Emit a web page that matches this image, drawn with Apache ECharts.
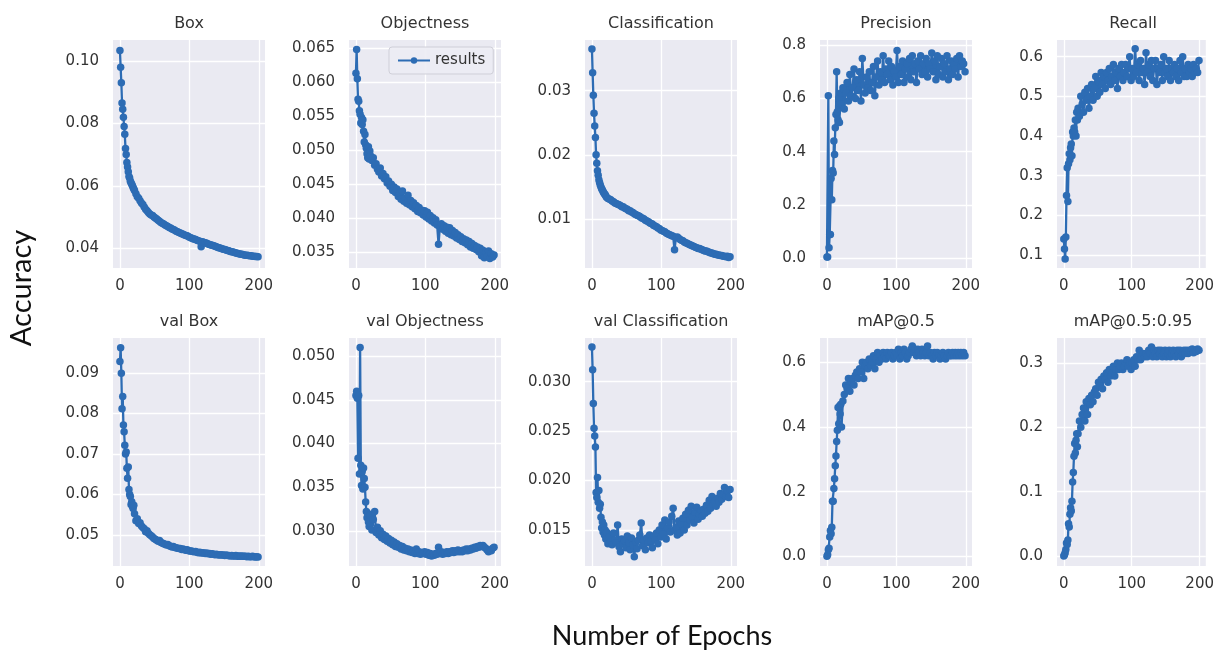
<!DOCTYPE html>
<html><head><meta charset="utf-8">
<script src="https://cdn.jsdelivr.net/npm/echarts@6/dist/echarts.min.js"></script>
<style>html,body{margin:0;padding:0;background:#fff}#c{width:1217px;height:653px}</style>
</head><body><div id="c"></div>
<script>
// ---------- DATA ----------
const epochs = [0,1,2,3,4,5,6,7,8,9,10,11,12,13,14,15,16,17,18,19,20,
21,23,25,27,29,31,33,35,37,39,41,43,45,47,49,51,53,55,57,59,
61,63,65,67,69,71,73,75,77,79,81,83,85,87,89,91,93,95,97,99,
101,103,105,107,109,111,113,115,117,119,121,123,125,127,129,131,133,135,137,139,
141,143,145,147,149,151,153,155,157,159,161,163,165,167,169,171,173,175,177,179,
181,183,185,187,189,191,193,195,197,199];

const titles = ['Box','Objectness','Classification','Precision','Recall',
  'val Box','val Objectness','val Classification','mAP@0.5','mAP@0.5:0.95'];

const boxLoss = [0.1033,0.098,0.093,0.0865,0.0845,0.082,0.079,0.0765,0.072,0.070,0.0675,0.066,0.0645,0.063,0.0625,0.0615,0.061,0.0605,0.060,0.0595,0.059,
0.0585,0.0575,0.0565,0.056,0.0552,0.0545,0.054,0.0532,0.0525,0.052,
0.0515,0.051,0.0507,0.0505,0.050,0.0497,0.0494,0.049,0.0487,0.0483,
0.048,0.0478,0.0475,0.0472,0.047,0.0467,0.0465,0.0462,0.046,0.0458,
0.0455,0.0453,0.0451,0.0449,0.0447,0.0445,0.0443,0.0441,0.044,0.0437,
0.0435,0.0433,0.0431,0.043,0.0428,0.0426,0.0424,0.0423,0.0405,0.0421,
0.0419,0.0418,0.0416,0.0414,0.0412,0.0411,0.041,0.0408,0.0407,0.0405,
0.0403,0.0402,0.04,0.0399,0.0397,0.0396,0.0395,0.0393,0.0392,0.039,
0.0389,0.0388,0.0387,0.0385,0.0384,0.0383,0.0382,0.0381,0.038,0.0379,
0.0378,0.0378,0.0377,0.0376,0.0376,0.0375,0.0375,0.0374,0.0374,0.0373];

const objLoss = [0.0613,0.0648,0.0605,0.0575,0.0572,0.0558,0.0553,0.054,0.0548,0.0538,0.0545,0.0528,0.0512,0.0523,0.0508,0.0503,0.0495,0.0489,0.0505,0.0487,0.0499,
0.0492,0.0485,0.0489,0.0478,0.0480,0.0472,0.0468,0.0474,0.0462,0.0466,
0.0458,0.0461,0.0452,0.0455,0.0447,0.0450,0.0441,0.0446,0.0438,0.0443,
0.0432,0.0437,0.0428,0.0440,0.0425,0.0430,0.0422,0.0434,0.0420,0.0426,
0.0417,0.0423,0.0414,0.0419,0.0410,0.0416,0.0408,0.0412,0.0405,0.0411,
0.0402,0.0409,0.0399,0.0404,0.0396,0.0401,0.0393,0.0398,0.0390,0.0362,
0.0388,0.0392,0.0384,0.0389,0.0381,0.0387,0.0378,0.0386,0.0376,0.0382,
0.0374,0.0379,0.0371,0.0376,0.0369,0.0373,0.0366,0.0370,0.0364,0.0368,
0.0361,0.0366,0.0358,0.0363,0.0356,0.0360,0.0354,0.0358,0.0351,0.0356,
0.0345,0.0353,0.0342,0.0350,0.0344,0.0352,0.0341,0.0348,0.0343,0.0346];

const clsLoss = [0.0365,0.0328,0.0293,0.0265,0.0245,0.0227,0.0200,0.0187,0.0175,0.0168,0.0161,0.0157,0.0153,0.0150,0.0147,0.0145,0.0143,0.0141,0.0139,0.0138,0.0136,
0.0134,0.0132,0.0131,0.0130,0.0128,0.0127,0.0125,0.0124,0.0123,0.0122,
0.0121,0.0119,0.0119,0.0117,0.0116,0.0115,0.0113,0.0113,0.0111,0.0110,
0.0108,0.0107,0.0106,0.0105,0.0104,0.0102,0.0101,0.0100,0.0098,0.0097,
0.0096,0.0094,0.0093,0.0092,0.0090,0.0089,0.0088,0.0086,0.0085,0.0083,
0.0082,0.0081,0.0080,0.0078,0.0077,0.0076,0.0075,0.0074,0.0073,0.0052,
0.0071,0.0072,0.0070,0.0068,0.0067,0.0066,0.0064,0.0063,0.0062,0.0061,
0.0060,0.0059,0.0058,0.0057,0.0056,0.0055,0.0054,0.0054,0.0053,0.0052,
0.0051,0.0050,0.0050,0.0049,0.0048,0.0047,0.0047,0.0046,0.0045,0.0045,
0.0044,0.0044,0.0043,0.0043,0.0042,0.0042,0.0041,0.0042,0.0040,0.0041];

const precision = [0.005,0.005,0.61,0.04,0.09,0.09,0.30,0.22,0.33,0.32,0.44,0.39,0.49,0.54,0.70,0.55,0.52,0.60,0.51,0.58,0.62,
0.58,0.64,0.56,0.62,0.66,0.59,0.69,0.61,0.64,0.71,
0.60,0.67,0.63,0.70,0.59,0.75,0.65,0.62,0.68,0.64,
0.70,0.63,0.66,0.72,0.61,0.68,0.74,0.65,0.70,0.67,
0.76,0.66,0.71,0.69,0.74,0.67,0.72,0.65,0.70,0.68,
0.78,0.66,0.72,0.69,0.74,0.66,0.71,0.73,0.68,0.75,
0.67,0.76,0.70,0.73,0.66,0.74,0.71,0.76,0.69,0.73,
0.70,0.75,0.68,0.73,0.71,0.77,0.70,0.74,0.67,0.76,
0.69,0.72,0.75,0.68,0.73,0.70,0.76,0.67,0.71,0.74,
0.69,0.73,0.71,0.75,0.68,0.76,0.72,0.74,0.73,0.70];

const recall = [0.14,0.115,0.09,0.145,0.25,0.32,0.235,0.33,0.355,0.34,0.37,0.38,0.35,0.41,0.40,0.42,0.41,0.44,0.40,0.46,0.44,
0.47,0.45,0.50,0.48,0.46,0.51,0.49,0.52,0.47,0.50,
0.53,0.49,0.52,0.55,0.50,0.54,0.51,0.56,0.53,0.55,
0.52,0.56,0.54,0.57,0.53,0.55,0.58,0.54,0.56,0.52,
0.57,0.55,0.58,0.54,0.56,0.58,0.55,0.57,0.60,0.54,
0.57,0.55,0.62,0.56,0.58,0.54,0.59,0.56,0.57,0.53,
0.61,0.56,0.58,0.55,0.59,0.54,0.57,0.59,0.53,0.57,
0.56,0.58,0.54,0.60,0.56,0.57,0.55,0.59,0.54,0.57,
0.56,0.58,0.55,0.57,0.54,0.59,0.56,0.60,0.55,0.57,
0.55,0.58,0.56,0.57,0.55,0.58,0.56,0.57,0.56,0.59];

const valBox = [0.0929,0.0963,0.0900,0.0812,0.0842,0.0772,0.0755,0.0722,0.0700,0.0705,0.0665,0.0640,0.0668,0.0612,0.0600,0.0595,0.0575,0.0582,0.0570,0.0565,0.0573,
0.0552,0.0535,0.0540,0.0528,0.0530,0.0522,0.0518,0.0515,0.0508,0.0510,
0.0504,0.0500,0.0498,0.0495,0.0491,0.0489,0.0487,0.0484,0.0486,0.0481,
0.0480,0.0478,0.0477,0.0475,0.0476,0.0473,0.0472,0.0470,0.0471,0.0469,
0.0468,0.0467,0.0466,0.0466,0.0464,0.0465,0.0463,0.0462,0.0463,0.0461,
0.0460,0.0460,0.0459,0.0458,0.0459,0.0457,0.0456,0.0457,0.0455,0.0456,
0.0455,0.0454,0.0455,0.0453,0.0454,0.0452,0.0453,0.0452,0.0451,0.0452,
0.0451,0.0450,0.0451,0.0450,0.0450,0.0449,0.0450,0.0449,0.0449,0.0448,
0.0449,0.0448,0.0448,0.0449,0.0447,0.0448,0.0447,0.0448,0.0447,0.0447,
0.0447,0.0446,0.0447,0.0446,0.0446,0.0447,0.0446,0.0445,0.0446,0.0445];

const valObj = [0.0455,0.0460,0.0452,0.0383,0.0455,0.0365,0.0510,0.0375,0.0352,0.0368,0.0348,0.0372,0.0360,0.0350,0.0333,0.0322,0.0315,0.0320,0.0310,0.0305,0.0318,
0.0308,0.0301,0.0313,0.0322,0.0298,0.0304,0.0295,0.0300,0.0292,0.0296,
0.0290,0.0294,0.0288,0.0291,0.0286,0.0289,0.0284,0.0287,0.0282,0.0285,
0.0281,0.0283,0.0279,0.0282,0.0278,0.0280,0.0277,0.0279,0.0276,0.0278,
0.0275,0.0277,0.0274,0.0279,0.0274,0.0276,0.0273,0.0275,0.0274,0.0276,
0.0273,0.0275,0.0272,0.0274,0.0271,0.0273,0.0272,0.0274,0.0273,0.0281,
0.0274,0.0276,0.0273,0.0275,0.0274,0.0276,0.0274,0.0276,0.0275,0.0277,
0.0275,0.0277,0.0276,0.0278,0.0276,0.0277,0.0276,0.0278,0.0277,0.0279,
0.0277,0.0279,0.0278,0.0280,0.0279,0.0281,0.0280,0.0282,0.0281,0.0283,
0.0282,0.0283,0.0281,0.0280,0.0278,0.0276,0.0278,0.0277,0.0280,0.0281];

const valCls = [0.0335,0.0312,0.0278,0.0253,0.0245,0.0234,0.0188,0.0183,0.0203,0.0178,0.0190,0.0172,0.0176,0.0163,0.0152,0.0158,0.0148,0.0155,0.0145,0.0150,0.0141,
0.0148,0.0136,0.0143,0.0139,0.0135,0.0147,0.0140,0.0137,0.0155,0.0133,
0.0128,0.0141,0.0136,0.0139,0.0132,0.0144,0.0137,0.0130,0.0142,0.0135,
0.0123,0.0138,0.0131,0.0140,0.0145,0.0157,0.0134,0.0140,0.0130,0.0142,
0.0137,0.0145,0.0139,0.0132,0.0144,0.0140,0.0147,0.0136,0.0150,0.0143,
0.0155,0.0146,0.0160,0.0141,0.0152,0.0158,0.0148,0.0164,0.0172,0.0150,
0.0153,0.0145,0.0159,0.0147,0.0156,0.0162,0.0150,0.0166,0.0155,0.0170,
0.0160,0.0174,0.0163,0.0157,0.0168,0.0173,0.0161,0.0166,0.0170,0.0164,
0.0171,0.0167,0.0175,0.0169,0.0180,0.0172,0.0184,0.0176,0.0179,0.0174,
0.0182,0.0178,0.0187,0.0181,0.0186,0.0193,0.0184,0.0190,0.0183,0.0191];

const map50 = [0.0,0.005,0.02,0.025,0.06,0.08,0.07,0.09,0.17,0.17,0.21,0.24,0.28,0.31,0.355,0.39,0.46,0.41,0.465,0.44,0.47,
0.40,0.48,0.50,0.53,0.52,0.55,0.51,0.54,0.55,0.53,
0.56,0.57,0.55,0.58,0.57,0.60,0.55,0.59,0.60,0.58,
0.61,0.59,0.60,0.62,0.58,0.61,0.63,0.60,0.62,0.61,
0.63,0.62,0.61,0.63,0.62,0.62,0.63,0.61,0.62,0.63,
0.62,0.64,0.61,0.63,0.62,0.64,0.63,0.61,0.62,0.63,
0.64,0.65,0.63,0.64,0.62,0.64,0.63,0.62,0.64,0.63,
0.62,0.63,0.65,0.62,0.63,0.62,0.61,0.63,0.62,0.63,
0.62,0.61,0.62,0.63,0.62,0.61,0.62,0.63,0.62,0.62,
0.63,0.62,0.63,0.62,0.63,0.62,0.63,0.62,0.63,0.62];

const map5095 = [0.0,0.002,0.005,0.01,0.02,0.018,0.025,0.05,0.045,0.065,0.075,0.07,0.085,0.115,0.13,0.155,0.175,0.16,0.18,0.19,0.17,
0.19,0.21,0.20,0.22,0.23,0.21,0.24,0.22,0.245,0.235,
0.25,0.24,0.255,0.26,0.25,0.27,0.265,0.275,0.26,0.28,
0.275,0.285,0.27,0.29,0.28,0.285,0.295,0.28,0.29,0.30,
0.29,0.295,0.30,0.29,0.295,0.30,0.305,0.295,0.30,0.29,
0.30,0.305,0.295,0.31,0.305,0.32,0.305,0.31,0.315,0.31,
0.315,0.31,0.32,0.315,0.325,0.31,0.32,0.315,0.31,0.32,
0.315,0.32,0.31,0.315,0.32,0.31,0.315,0.32,0.31,0.315,
0.32,0.315,0.31,0.32,0.315,0.32,0.31,0.315,0.32,0.315,
0.32,0.315,0.32,0.318,0.322,0.316,0.32,0.318,0.322,0.32];

const xTicks = [0, 100, 200];
const yTicks = [
  [0.04,0.06,0.08,0.10],
  [0.035,0.040,0.045,0.050,0.055,0.060,0.065],
  [0.01,0.02,0.03],
  [0.0,0.2,0.4,0.6,0.8],
  [0.1,0.2,0.3,0.4,0.5,0.6],
  [0.05,0.06,0.07,0.08,0.09],
  [0.030,0.035,0.040,0.045,0.050],
  [0.015,0.020,0.025,0.030],
  [0.0,0.2,0.4,0.6],
  [0.0,0.1,0.2,0.3]
];
const yDecimals = [2,3,2,1,1,2,3,3,1,1];
const seriesValues = [boxLoss,objLoss,clsLoss,precision,recall,valBox,valObj,valCls,map50,map5095];

// ---------- LAYOUT ----------
const yRanges = [
  [0.0337,0.1067],[0.0327,0.0662],[0.00236,0.0379],[-0.036,0.819],[0.067,0.642],
  [0.0423,0.0987],[0.02596,0.0521],[0.01136,0.03442],[-0.030,0.675],[-0.0156,0.339]
];
const colLeft = [113,349,585,820,1057];
const rowTop = [40,338];
const W = 152, H = 228;
const BLUE = '#2d6cb4';
const FONT = 'DejaVu Sans';

const grids = [], xAxes = [], yAxes = [], series = [], graphics = [];
for (let i = 0; i < 10; i++) {
  const r = Math.floor(i / 5), c = i % 5;
  grids.push({left: colLeft[c], top: rowTop[r], width: W, height: H,
    show: true, backgroundColor: '#eaeaf2', borderWidth: 0, containLabel: false});
  xAxes.push({type: 'value', gridIndex: i, min: -10, max: 209,
    axisLine: {show: false},
    axisTick: {show: false, customValues: xTicks},
    axisLabel: {customValues: xTicks, color: '#333', fontSize: 15, fontFamily: FONT, margin: 11},
    splitLine: {show: true, lineStyle: {color: '#ffffff', width: 1.3}}});
  const dec = yDecimals[i];
  yAxes.push({type: 'value', gridIndex: i, min: yRanges[i][0], max: yRanges[i][1],
    axisLine: {show: false},
    axisTick: {show: false, customValues: yTicks[i]},
    axisLabel: {customValues: yTicks[i], color: '#333', fontSize: 15, fontFamily: FONT, margin: 14,
      formatter: (v) => Number(v).toFixed(dec)},
    splitLine: {show: true, lineStyle: {color: '#ffffff', width: 1.3}}});
  series.push({type: 'line', name: 'results', xAxisIndex: i, yAxisIndex: i,
    data: epochs.map((e, k) => [e, seriesValues[i][k]]),
    symbol: 'circle', symbolSize: 7.5, showSymbol: true,
    lineStyle: {color: BLUE, width: 2.3}, itemStyle: {color: BLUE},
    animation: false, clip: true});
  graphics.push({type: 'text', x: colLeft[c] + W / 2, y: rowTop[r] - 16,
    style: {text: titles[i], fill: '#333', font: '16px "DejaVu Sans"', textAlign: 'center', textVerticalAlign: 'middle'}});
}
graphics.push({type: 'text', x: 22, y: 288, rotation: Math.PI / 2,
  style: {text: 'Accuracy', fill: '#111', font: '29px Lato', textAlign: 'center', textVerticalAlign: 'middle'}});
graphics.push({type: 'text', x: 662, y: 636,
  style: {text: 'Number of Epochs', fill: '#111', font: '27px Lato', textAlign: 'center', textVerticalAlign: 'middle'}});

const chart = echarts.init(document.getElementById('c'), null, {renderer: 'canvas'});
chart.setOption({
  backgroundColor: '#ffffff',
  animation: false,
  grid: grids, xAxis: xAxes, yAxis: yAxes, series: series,
  legend: {data: ['results'], left: 389, top: 47, orient: 'horizontal',
    backgroundColor: 'rgba(236,236,244,0.9)', borderColor: '#cfcfd8', borderWidth: 1, borderRadius: 3,
    padding: [6, 8], itemWidth: 32, itemHeight: 8, itemGap: 6,
    textStyle: {color: '#333', fontSize: 15, fontFamily: FONT}},
  graphic: graphics
});
</script></body></html>
